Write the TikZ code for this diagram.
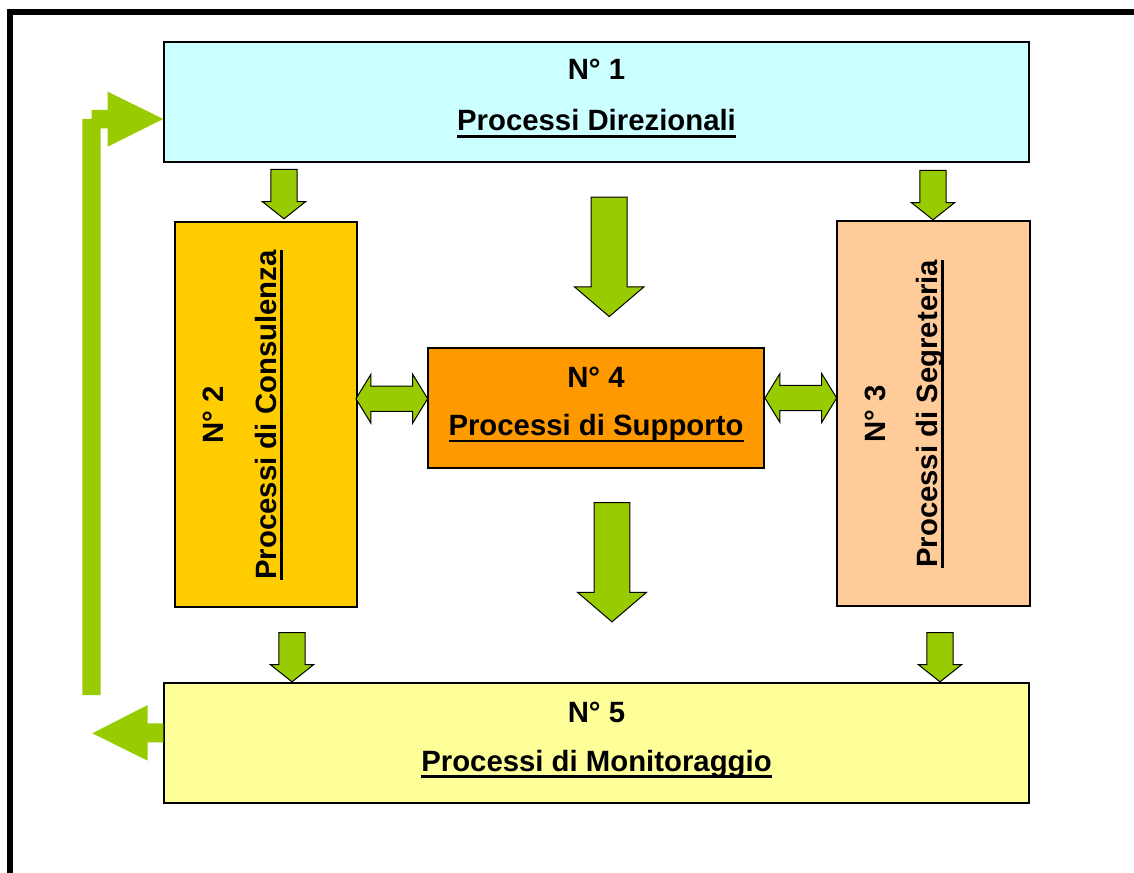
\documentclass[tikz,border=0pt]{standalone}
\usepackage{fontspec}
\setmainfont{Liberation Sans}
\usetikzlibrary{shapes.arrows}
\definecolor{dirfill}{HTML}{CCFFFF}
\definecolor{consfill}{HTML}{FFCC00}
\definecolor{segrfill}{HTML}{FFCC99}
\definecolor{suppfill}{HTML}{FF9900}
\definecolor{monifill}{HTML}{FFFF99}
\definecolor{arrgreen}{HTML}{99CC00}
\newcommand{\undl}[1]{\setbox0\hbox{#1}\rlap{\rule[-5pt]{\wd0}{2pt}}\box0}

\begin{document}
\begin{tikzpicture}[x=0.75pt,y=-0.75pt,
    box/.style={draw,rectangle,line width=1.1pt,inner sep=0pt},
    lbl/.style={font=\fontsize{22}{26}\selectfont\bfseries,inner sep=0pt,anchor=base},
    downarr/.style={single arrow,draw,fill=arrgreen,line width=0.75pt,rotate=-90,anchor=tail,
        inner xsep=0pt,single arrow head indent=0pt},
    smallarr/.style={downarr,inner ysep=9.4pt,single arrow head extend=6.5pt,
        single arrow tip angle=103,minimum height=37pt},
    bigarr/.style={downarr,inner ysep=13.1pt,single arrow head extend=12.5pt,
        single arrow tip angle=99,minimum height=89.5pt},
    sidearr/.style={double arrow,draw,fill=arrgreen,line width=0.75pt,inner xsep=0pt,inner ysep=9.1pt,
        double arrow head extend=8.9pt,double arrow tip angle=117,minimum height=53.8pt}]
    \useasboundingbox (0,0) rectangle (1134,873);
    \draw[line width=4.5pt] (10.3,873) -- (10.3,12) -- (1134,12);

    \node[box,fill=dirfill,minimum width=648.75pt,minimum height=90pt] (dir) at (596.5,102) {};
    \node[box,fill=consfill,minimum width=136.5pt,minimum height=288.75pt] (cons) at (266,414.5) {};
    \node[box,fill=segrfill,minimum width=144.75pt,minimum height=288.75pt] (segr) at (933.5,413.5) {};
    \node[box,fill=suppfill,minimum width=252pt,minimum height=90pt] (supp) at (596,408) {};
    \node[box,fill=monifill,minimum width=648.75pt,minimum height=90pt] (moni) at (596.5,743) {};

    \node[lbl] (dirnum) at (596.5,80) {N° 1};
    \node[lbl] (dirname) at (596.5,131) {\undl{Processi Direzionali}};
    \node[lbl] (suppnum) at (596,387.3) {N° 4};
    \node[lbl] (suppname) at (596,435.7) {\undl{Processi di Supporto}};
    \node[lbl] (moninum) at (596.5,722) {N° 5};
    \node[lbl] (moniname) at (596.5,771) {\undl{Processi di Monitoraggio}};
    \node[lbl,rotate=90] (consnum) at (223.3,414.5) {N° 2};
    \node[lbl,rotate=90] (consname) at (276,415) {\undl{Processi di Consulenza}};
    \node[lbl,rotate=90] (segrnum) at (885,413.5) {N° 3};
    \node[lbl,rotate=90] (segrname) at (937.4,413.8) {\undl{Processi di Segreteria}};

    \node[smallarr] (dircons) at (284,169) {};
    \node[smallarr] (dirsegr) at (933,170) {};
    \node[smallarr] (consmoni) at (292,632) {};
    \node[smallarr] (segrmoni) at (940,632) {};
    \node[bigarr] (dirsupp) at (609.2,196.7) {};
    \node[bigarr] (suppmoni) at (612,502) {};
    \node[sidearr] (conssupp) at (391.8,398.7) {};
    \node[sidearr] (suppsegr) at (800.8,398) {};

    \fill[arrgreen] (82.3,695) -- (82.3,119) -- (91.7,119) -- (91.7,110) -- (107.7,110) -- (107.7,91.7)
        -- (dir.west |- 0,119) -- (107.7,146.7) -- (107.7,128.3) -- (100.7,128.3) -- (100.7,695) -- cycle;
    \fill[arrgreen] (moni.west |- 0,723.3) -- (147.7,723.3) -- (147.7,705) -- (92.3,733.3) -- (147.7,760.7)
        -- (147.7,742.3) -- (moni.west |- 0,742.3) -- cycle;
\end{tikzpicture}
\end{document}
